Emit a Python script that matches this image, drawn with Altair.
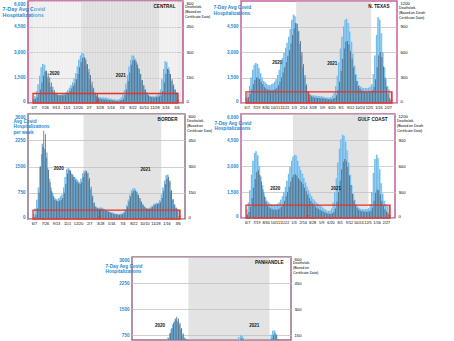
import altair as alt
import pandas as pd

FONT = "Liberation Sans"
BLUE_TXT = "#1b8ad3"
BAR_BLUE = "#9fd3f4"
BAR_BLUE_DARK = "#4ea6e0"
BAR_GREY = "#44586a"
RED = "#e4332a"

week_start = "2020-06-07"
n_weeks = 92
weeks = pd.date_range(week_start, periods=n_weeks, freq="7D")

central_hosp = [250, 400, 700, 1100, 1600, 2100, 2300, 2250, 1900, 1500,
                1200, 950, 750, 620, 540, 500, 470, 480, 500, 520,
                560, 650, 760, 900, 1050, 1200, 1450, 1750, 2150, 2550,
                2800, 2950, 2900, 2650, 2250, 1800, 1400, 1050, 780, 600,
                480, 400, 360, 340, 330, 320, 320, 300, 280, 260,
                240, 220, 200, 190, 200, 240, 320, 480, 750, 1150,
                1650, 2150, 2550, 2800, 2780, 2600, 2350, 2050, 1700, 1350,
                1050, 800, 620, 500, 430, 400, 390, 400, 430, 460,
                520, 800, 1400, 2000, 2450, 2400, 2100, 1700, 1300, 1000,
                800, 650]
central_deaths = [20, 25, 35, 50, 80, 120, 160, 185, 190, 175,
                  150, 120, 95, 75, 60, 50, 45, 45, 45, 45,
                  48, 55, 60, 70, 85, 100, 115, 140, 170, 210,
                  240, 265, 270, 255, 230, 200, 165, 125, 90, 60,
                  40, 30, 25, 22, 22, 20, 20, 18, 18, 16,
                  15, 14, 12, 12, 12, 14, 18, 25, 45, 80,
                  130, 180, 225, 250, 255, 245, 225, 200, 170, 135,
                  105, 80, 60, 45, 38, 35, 33, 33, 35, 37,
                  38, 45, 70, 120, 170, 200, 195, 170, 140, 110,
                  80, 60]

ntexas_hosp = [350, 600, 1000, 1500, 1950, 2250, 2350, 2300, 2050, 1750,
               1500, 1300, 1200, 1100, 1050, 1050, 1100, 1150, 1250, 1400,
               1650, 1950, 2300, 2650, 2950, 3250, 3550, 3900, 4350, 4900,
               5200, 5100, 4700, 4150, 3500, 2800, 2100, 1500, 1000, 700,
               550, 480, 450, 440, 430, 420, 410, 400, 390, 370,
               340, 320, 320, 320, 350, 420, 600, 1000, 1600, 2400,
               3200, 3900, 4500, 4900, 4950, 4700, 4200, 3600, 2900, 2200,
               1700, 1300, 1050, 950, 900, 880, 870, 880, 900, 950,
               1100, 1700, 2800, 4000, 5050, 4900, 4100, 3000, 2100, 1400,
               1000, 800]
ntexas_deaths = [50, 70, 110, 160, 220, 270, 300, 300, 280, 250,
                 220, 190, 170, 160, 155, 150, 150, 155, 165, 180,
                 210, 250, 300, 360, 420, 480, 550, 620, 700, 800,
                 880, 940, 930, 850, 730, 600, 460, 330, 220, 140,
                 100, 80, 70, 65, 60, 60, 58, 55, 55, 52,
                 50, 48, 45, 45, 45, 50, 60, 90, 150, 250,
                 380, 520, 640, 720, 730, 690, 610, 520, 420, 330,
                 260, 200, 170, 150, 140, 135, 130, 130, 135, 140,
                 150, 190, 280, 420, 560, 600, 540, 430, 300, 190,
                 110, 60]

border_hosp = [150, 300, 550, 900, 1500, 1850, 2050, 2000, 1750, 1450,
               1150, 900, 750, 620, 580, 560, 600, 650, 700, 900,
               1200, 1420, 1460, 1400, 1300, 1250, 1200, 1150, 1100, 1050,
               1150, 1300, 1380, 1390, 1300, 1100, 850, 620, 450, 360,
               330, 320, 330, 330, 300, 270, 250, 230, 210, 190,
               180, 160, 150, 140, 140, 150, 160, 200, 280, 400,
               560, 700, 820, 880, 880, 800, 700, 600, 500, 420,
               360, 320, 300, 310, 340, 380, 420, 450, 460, 470,
               540, 700, 900, 1100, 1250, 1270, 1100, 800, 550, 400,
               320, 280]
border_deaths = [10, 25, 60, 150, 300, 430, 505, 485, 380, 280,
                 210, 160, 130, 110, 105, 100, 105, 110, 120, 150,
                 200, 260, 280, 275, 255, 240, 225, 215, 205, 200,
                 210, 240, 265, 275, 265, 235, 185, 135, 95, 72,
                 62, 58, 58, 58, 54, 50, 46, 42, 38, 35,
                 32, 29, 27, 25, 24, 25, 28, 34, 48, 70,
                 100, 128, 150, 162, 165, 155, 138, 118, 98, 82,
                 70, 62, 58, 58, 62, 70, 78, 84, 86, 88,
                 96, 120, 160, 200, 230, 240, 215, 165, 115, 85,
                 65, 55]

gulf_hosp = [500, 900, 1600, 2500, 3300, 3750, 3850, 3600, 3000, 2400,
             1900, 1500, 1200, 1000, 900, 820, 780, 760, 760, 780,
             820, 900, 1050, 1250, 1500, 1800, 2150, 2550, 2950, 3300,
             3550, 3650, 3600, 3300, 3000, 2750, 2550, 2300, 2050, 1800,
             1600, 1400, 1250, 1100, 1000, 900, 820, 760, 700, 620,
             540, 470, 420, 400, 420, 550, 900, 1500, 2300, 3200,
             4000, 4550, 4800, 4750, 4400, 3900, 3200, 2500, 1900, 1400,
             1050, 800, 650, 560, 520, 500, 500, 500, 520, 560,
             800, 1500, 2600, 3400, 3650, 3450, 2800, 2000, 1400, 1000,
             800, 700]
gulf_deaths = [40, 70, 130, 230, 350, 450, 530, 550, 500, 420,
               330, 250, 190, 150, 125, 110, 100, 95, 95, 95,
               100, 110, 130, 160, 200, 250, 300, 360, 420, 470,
               500, 505, 490, 460, 435, 415, 390, 350, 310, 270,
               230, 195, 170, 150, 130, 115, 105, 95, 85, 75,
               65, 58, 52, 50, 50, 55, 70, 110, 190, 300,
               430, 560, 650, 680, 660, 590, 490, 380, 280, 200,
               150, 115, 95, 85, 78, 75, 72, 72, 72, 75,
               85, 120, 200, 290, 330, 320, 270, 200, 140, 100,
               75, 60]

panhandle_hosp = [60, 80, 110, 150, 200, 250, 280, 290, 280, 260,
                  240, 230, 230, 250, 280, 330, 400, 480, 570, 680,
                  800, 920, 1050, 1150, 1200, 1150, 1050, 900, 760, 650,
                  620, 580, 500, 420, 340, 270, 220, 180, 150, 130,
                  120, 110, 100, 95, 95, 90, 85, 80, 75, 70,
                  65, 60, 60, 60, 65, 80, 110, 160, 230, 320,
                  420, 520, 610, 690, 740, 720, 650, 560, 480, 420,
                  380, 360, 350, 360, 380, 400, 420, 430, 430, 420,
                  430, 500, 620, 760, 870, 880, 780, 620, 480, 380,
                  300, 250]
panhandle_deaths = [5, 8, 10, 15, 22, 30, 38, 42, 44, 42,
                    40, 38, 38, 40, 45, 55, 68, 85, 105, 130,
                    160, 190, 220, 245, 255, 245, 220, 190, 160, 135,
                    125, 115, 100, 85, 70, 55, 45, 36, 30, 26,
                    23, 21, 20, 18, 17, 16, 15, 14, 13, 12,
                    12, 11, 11, 11, 12, 14, 18, 26, 38, 52,
                    70, 88, 105, 120, 130, 130, 120, 105, 92, 82,
                    75, 70, 68, 68, 70, 74, 78, 80, 80, 80,
                    82, 90, 108, 130, 150, 160, 150, 125, 100, 80,
                    64, 52]

ticks_49 = ["2020-06-07", "2020-07-26", "2020-09-13", "2020-11-01", "2020-12-20",
            "2021-02-07", "2021-03-28", "2021-05-16", "2021-07-04", "2021-08-22",
            "2021-10-10", "2021-11-28", "2022-01-16", "2022-03-06"]
ticks_42 = ["2020-06-07", "2020-07-19", "2020-08-30", "2020-10-11", "2020-11-22",
            "2021-01-03", "2021-02-14", "2021-03-28", "2021-05-09", "2021-06-20",
            "2021-08-01", "2021-09-12", "2021-10-24", "2021-12-05", "2022-01-16",
            "2022-02-27"]

title_hosp = ["7-Day Avg Covid", "Hospitalizations"]
title_hosp_border = ["Avg Covid", "Hospitalizations", "per week"]
title_deaths = ["Deaths/wk.", "(Based on", "Certificate Date)"]
title_deaths_death = ["Deaths/wk.", "(Based on Death", "Certificate Date)"]

panels = {
    "central": dict(name="CENTRAL", hosp=central_hosp, deaths=central_deaths,
                    xdom=("2020-06-04", "2022-03-13"), xticks=ticks_49,
                    ydom=[0, 6000], yticks=[0, 1500, 3000, 4500, 6000], yfmt=",d",
                    rdom=[0, 600], rticks=[0, 150, 300, 450, 600],
                    band=("2021-01-06", "2021-12-18"), red=560,
                    arrows=["2021-03-18", "2022-03-11"],
                    years=[("2020-09-08", 1680, "2020"), ("2021-07-01", 1590, "2021")],
                    ltitle=title_hosp, lsize=5.4, llh=6.7, ltx=-26, lty=5,
                    rtitle=title_deaths, rty=3.5,
                    frame="#c0508f", bg="#ececec", width=155, height=102),
    "ntexas": dict(name="N. TEXAS", hosp=ntexas_hosp, deaths=ntexas_deaths,
                   xdom=("2020-06-04", "2022-03-18"), xticks=ticks_42,
                   ydom=[0, 6000], yticks=[0, 1500, 3000, 4500], yfmt=",d",
                   rdom=[0, 1200], rticks=[0, 300, 600, 900, 1200],
                   band=("2021-01-14", "2021-12-15"), red=650,
                   arrows=["2021-03-11", "2022-03-15"],
                   years=[("2020-10-21", 2325, "2020"), ("2021-06-24", 2310, "2021")],
                   ltitle=title_hosp, lsize=4.8, llh=6, ltx=-28, lty=3,
                   rtitle=title_deaths_death, rty=4.5,
                   frame="#c8609e", bg="white", width=156, height=102),
    "border": dict(name="BORDER", hosp=border_hosp, deaths=border_deaths,
                   xdom=("2020-06-03", "2022-03-17"), xticks=ticks_49,
                   ydom=[0, 3000], yticks=[0, 750, 1500, 2250, 3000], yfmt="d",
                   rdom=[0, 600], rticks=[0, 150, 300, 450, 600],
                   band=("2021-01-13", "2021-12-24"), red=255,
                   arrows=["2021-03-25", "2022-03-15"],
                   years=[("2020-09-25", 1430, "2020"), ("2021-10-15", 1395, "2021")],
                   ltitle=title_hosp_border, lsize=4.7, llh=5.5, ltx=-15, lty=4,
                   rtitle=title_deaths, rty=4.5,
                   frame="#8e7486", bg="white", width=157, height=105),
    "gulf": dict(name="GULF COAST", hosp=gulf_hosp, deaths=gulf_deaths,
                 xdom=("2020-06-02", "2022-03-17"), xticks=ticks_42,
                 ydom=[0, 6000], yticks=[0, 1500, 3000, 4500, 6000], yfmt=",d",
                 rdom=[0, 1200], rticks=[0, 300, 600, 900, 1200],
                 band=("2021-01-01", "2021-12-09"), red=745,
                 arrows=["2021-03-07", "2022-03-14"],
                 years=[("2020-10-13", 1700, "2020"), ("2021-07-15", 1700, "2021")],
                 ltitle=title_hosp, lsize=4.7, llh=5.2, ltx=-27, lty=6.5,
                 rtitle=title_deaths_death, rty=4.5,
                 frame="#c0609a", bg="white", width=154, height=104),
    "panhandle": dict(name="PANHANDLE", hosp=panhandle_hosp, deaths=panhandle_deaths,
                      xdom=("2020-06-04", "2022-03-13"), xticks=None,
                      ydom=[606, 3000], yticks=[750, 1500, 2250, 3000], yfmt="d",
                      rdom=[121.2, 600], rticks=[150, 300, 450, 600],
                      band=("2021-01-13", "2021-12-31"), red=None, arrows=[],
                      years=[("2020-09-12", 1005, "2020"), ("2021-10-26", 1005, "2021")],
                      ltitle=title_hosp, lsize=4.7, llh=5.2, ltx=-27, lty=6.5,
                      rtitle=title_deaths, rty=3.5,
                      frame="#9a6f8c", bg="white", width=159, height=83),
}


def dt(s):
    y, m, d = (int(v) for v in s.split("-"))
    return alt.DateTime(year=y, month=m, date=d)


def panel(c, weekly_grid=False):
    df = pd.DataFrame({"date": weeks, "hosp": c["hosp"], "deaths": c["deaths"]})
    clip = c["xticks"] is None
    xs = alt.Scale(domain=[dt(c["xdom"][0]), dt(c["xdom"][1])])
    if c["xticks"]:
        xaxis = alt.Axis(values=[dt(v) for v in c["xticks"]], format="%-m/%-d",
                         labelFontSize=3.8, labelColor="black", labelPadding=2,
                         ticks=False, domain=False, grid=False, title=None,
                         labelOverlap=False, labelFlush=False, labelFont=FONT)
    else:
        xaxis = None
    X = alt.X("date:T", scale=xs, axis=xaxis, title=None)
    ys = alt.Scale(domain=c["ydom"], zero=False, nice=False)
    rs = alt.Scale(domain=c["rdom"], zero=False, nice=False)
    yaxis = alt.Axis(values=c["yticks"], format=c["yfmt"], labelColor=BLUE_TXT,
                     labelFontSize=4.6, labelFont=FONT, labelPadding=3, labelFlush=True,
                     labelFontWeight="bold",
                     ticks=False, domain=False, grid=True, gridColor="#c4c4c4",
                     gridWidth=0.8, title=c["ltitle"], titleAngle=0, titleAlign="left",
                     titleBaseline="top", titleX=c["ltx"], titleY=c["lty"],
                     titleColor=BLUE_TXT, titleFont=FONT, titleFontWeight="bold",
                     titleFontSize=c["lsize"], titleLineHeight=c["llh"])
    raxis = alt.Axis(orient="right", values=c["rticks"], format="d", labelColor="black",
                     labelFontSize=4.2, labelFont=FONT, labelPadding=3, labelFlush=True,
                     ticks=False, domain=False, grid=False, title=c["rtitle"],
                     titleAngle=0, titleAlign="left", titleBaseline="top", titleX=1.5,
                     titleY=c["rty"], titleColor="black", titleFont=FONT,
                     titleFontWeight="normal", titleFontSize=3.5, titleLineHeight=5)

    band_df = pd.DataFrame({"date": [pd.Timestamp(c["band"][0])],
                            "date2": [pd.Timestamp(c["band"][1])]})
    band = alt.Chart(band_df).mark_rect(color="#bdbdbd", opacity=0.42).encode(
        x=X, x2="date2:T")
    blue = alt.Chart(df).mark_bar(size=1.7, color=BAR_BLUE, clip=clip).encode(
        x=X, y=alt.Y("hosp:Q", scale=ys, axis=yaxis))
    blue2 = alt.Chart(df).mark_bar(size=0.7, color=BAR_BLUE_DARK, opacity=0.85,
                                   xOffset=-0.5, clip=clip).encode(
        x=X, y=alt.Y("hosp:Q", scale=ys, axis=yaxis))
    layers1 = [band]
    if weekly_grid:
        layers1.append(alt.Chart(df).mark_rule(color="white", strokeWidth=0.5,
                                               opacity=0.7).encode(x=X))
    layers1 += [blue, blue2]
    g1 = alt.layer(*layers1)

    g2 = alt.Chart(df).mark_bar(size=0.8, color=BAR_GREY, opacity=0.9, xOffset=0.4,
                                clip=clip).encode(
        x=X, y=alt.Y("deaths:Q", scale=rs, axis=raxis))

    def Yn(f):
        return alt.Y(f, scale=ys, axis=None)

    layers3 = []
    if c["red"] is not None:
        red_df = pd.DataFrame({"date": [pd.Timestamp(c["xdom"][0])],
                               "date2": [pd.Timestamp(c["xdom"][1])],
                               "lo": [0], "hi": [c["red"]]})
        layers3.append(alt.Chart(red_df).mark_rect(fillOpacity=0, stroke=RED,
                                                   strokeWidth=1.3).encode(
            x=X, x2="date2:T", y=Yn("lo:Q"), y2="hi:Q"))
        arr_df = pd.DataFrame({"date": pd.to_datetime(c["arrows"]),
                               "lo": [0] * len(c["arrows"]),
                               "hi": [c["red"]] * len(c["arrows"])})
        layers3.append(alt.Chart(arr_df).mark_rule(color=RED, strokeWidth=1).encode(
            x=X, y=Yn("lo:Q"), y2="hi:Q"))
        layers3.append(alt.Chart(arr_df).mark_point(shape="triangle-down", filled=True,
                                                    size=9, color=RED, opacity=1,
                                                    yOffset=-1.5).encode(
            x=X, y=Yn("lo:Q")))
    yr_df = pd.DataFrame({"date": pd.to_datetime([a for a, _, _ in c["years"]]),
                          "val": [b for _, b, _ in c["years"]],
                          "label": [t for _, _, t in c["years"]]})
    layers3.append(alt.Chart(yr_df).mark_text(fontSize=4.5, fontWeight="bold", font=FONT,
                                              color="#111111").encode(
        x=X, y=Yn("val:Q"), text="label:N"))
    reg_df = pd.DataFrame({"date": [pd.Timestamp(c["xdom"][1])], "val": [c["ydom"][1]],
                           "label": [c["name"]]})
    layers3.append(alt.Chart(reg_df).mark_text(fontSize=4.6, fontWeight="bold", font=FONT,
                                               color="#111111", align="right",
                                               baseline="top", dx=-2.5, dy=2.5).encode(
        x=X, y=Yn("val:Q"), text="label:N"))
    g3 = alt.layer(*layers3)

    return alt.layer(g1, g2, g3).resolve_scale(y="independent").properties(
        width=c["width"], height=c["height"],
        view=alt.ViewBackground(stroke=c["frame"], strokeWidth=1.5, fill=c["bg"]))


def spacer(w):
    return alt.Chart(pd.DataFrame({"v": [0]})).mark_point(opacity=0).encode(
        x=alt.X("v:Q", axis=None), y=alt.Y("v:Q", axis=None)
    ).properties(width=w, height=1, view=alt.ViewBackground(stroke=None))


central = panel(panels["central"], weekly_grid=True)
ntexas = panel(panels["ntexas"])
border = panel(panels["border"])
gulf = panel(panels["gulf"])
panhandle = panel(panels["panhandle"])

row1 = alt.hconcat(central, ntexas, spacing=1)
row2 = alt.hconcat(border, gulf, spacing=0)
row3 = alt.hconcat(spacer(71), panhandle, spacing=5)
top = alt.vconcat(row1, row2, spacing=3)
chart = alt.vconcat(top, row3, spacing=28).properties(
    padding={"left": 1, "top": 0, "right": 0, "bottom": 0},
    background="white",
).configure(font=FONT)

chart.save("out.html", embed_options={"renderer": "svg", "actions": False})
